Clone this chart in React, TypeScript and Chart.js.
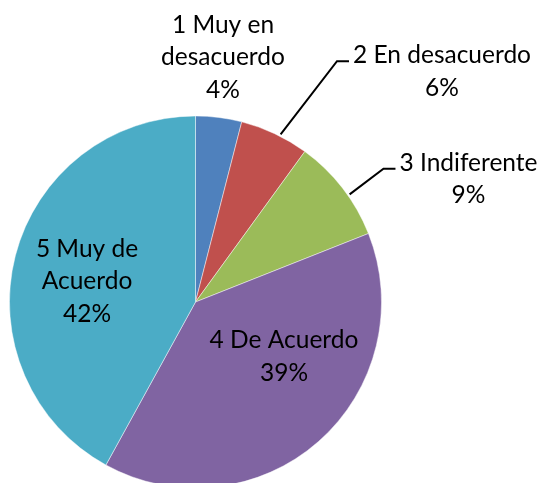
import React, { useEffect, useRef } from "react";
import { Chart, registerables } from "chart.js";

Chart.register(...registerables);

const categories: string[][] = [
  ["1 Muy en", "desacuerdo"],
  ["2 En desacuerdo"],
  ["3 Indiferente"],
  ["4 De Acuerdo"],
  ["5 Muy de", "Acuerdo"],
];
const percentages: number[] = [4, 6, 9, 39, 42];
const sliceColors: string[] = ["#4F81BD", "#C0504D", "#9BBB59", "#8064A2", "#4BACC6"];

// label block centers relative to pie center (px), and whether a leader line is drawn
const labelOffsets = [
  { dx: 27.5, dy: -244.5, leader: false, angleShift: 0 },
  { dx: 246.5, dy: -230.5, leader: true, angleShift: 0.03 },
  { dx: 273, dy: -123, leader: true, angleShift: 0.05 },
  { dx: 88.5, dy: 54.5, leader: false, angleShift: 0 },
  { dx: -108.5, dy: -20.5, leader: false, angleShift: 0 },
];

const FONT = "24.5px Lato, 'Open Sans', sans-serif";
const LINE_H = 32.5;

const labelPlugin = {
  id: "pieLabels",
  afterDatasetsDraw(chart: any) {
    const ctx = chart.ctx as CanvasRenderingContext2D;
    const meta = chart.getDatasetMeta(0);
    ctx.save();
    ctx.font = FONT;
    ctx.fillStyle = "#000";
    ctx.textAlign = "center";
    ctx.textBaseline = "middle";
    meta.data.forEach((arc: any, i: number) => {
      const { x, y, startAngle, endAngle, outerRadius } = arc.getProps(
        ["x", "y", "startAngle", "endAngle", "outerRadius"],
        true
      );
      const lines = [...categories[i], `${percentages[i]}%`];
      const off = labelOffsets[i];
      const cx = x + off.dx;
      const cy = y + off.dy;
      const top = cy - ((lines.length - 1) * LINE_H) / 2;
      lines.forEach((t, k) => ctx.fillText(t, cx, top + k * LINE_H));
      if (off.leader) {
        const w = ctx.measureText(lines[0]).width;
        const left = cx - w / 2;
        const mid = (startAngle + endAngle) / 2 + off.angleShift;
        const r = outerRadius + 2;
        const sx = x + Math.cos(mid) * r;
        const sy = y + Math.sin(mid) * r;
        ctx.beginPath();
        ctx.strokeStyle = "#000";
        ctx.lineWidth = 2;
        ctx.moveTo(sx, sy);
        ctx.lineTo(left - 16, top + 6);
        ctx.lineTo(left - 4, top + 6);
        ctx.stroke();
      }
    });
    ctx.restore();
  },
};

export default function App() {
  const ref = useRef<HTMLCanvasElement>(null);
  useEffect(() => {
    if (!ref.current) return;
    const chart = new Chart(ref.current, {
      type: "pie",
      data: {
        labels: categories.map((c) => c.join(" ")),
        datasets: [
          {
            data: percentages,
            backgroundColor: sliceColors,
            borderColor: "rgba(255,255,255,0.45)",
            borderWidth: 1,
          },
        ],
      },
      options: {
        responsive: false,
        animation: false,
        layout: { padding: { left: 9, right: 162, top: 115.5, bottom: 1.5 } },
        plugins: { legend: { display: false }, tooltip: { enabled: false } },
      },
      plugins: [labelPlugin],
    });
    return () => chart.destroy();
  }, []);
  return (
    <div style={{ position: "fixed", left: 0, top: 0, width: 544, height: 483, overflow: "hidden", background: "#fff" }}>
      <canvas ref={ref} width={544} height={490} style={{ display: "block" }} />
    </div>
  );
}
